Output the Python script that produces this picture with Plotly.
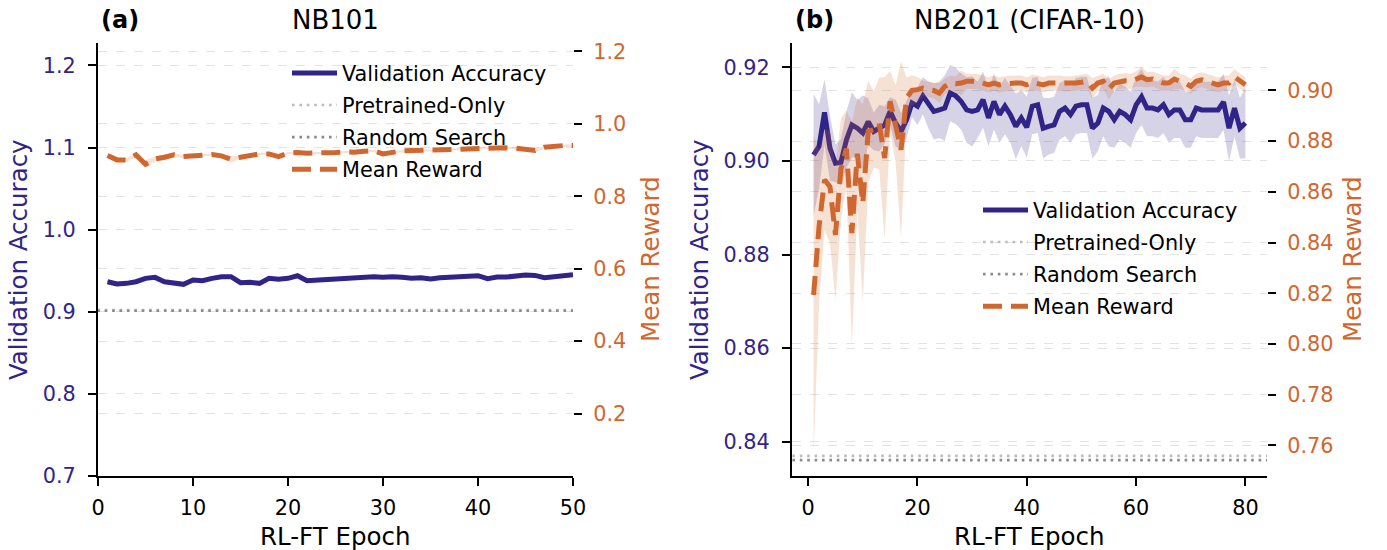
import numpy as np
import plotly.graph_objects as go

# ---------------- data ----------------
epochs_a = list(range(1, 51))
acc_a = [0.9366, 0.9338, 0.9346, 0.9366, 0.9407, 0.9419, 0.9366, 0.9354, 0.9334, 0.9387,
         0.9378, 0.9407, 0.9427, 0.9427, 0.9354, 0.9358, 0.9346, 0.9407, 0.9395, 0.9407,
         0.9439, 0.9378, 0.9387, 0.9395, 0.9399, 0.9415, 0.9423, 0.9427, 0.9427, 0.9419,
         0.9427, 0.9419, 0.9407, 0.9415, 0.9399, 0.9415, 0.9423, 0.9427, 0.9435, 0.9439,
         0.9403, 0.9423, 0.9423, 0.9435, 0.9447, 0.9443, 0.9415, 0.9427, 0.9443, 0.9451]
acc_a_std = [0.0020, 0.0030, 0.0020, 0.0015, 0.0020, 0.0015, 0.0025, 0.0020, 0.0020, 0.0030,
             0.0020, 0.0015, 0.0015, 0.0015, 0.0030, 0.0020, 0.0020, 0.0015, 0.0020, 0.0015,
             0.0015, 0.0020, 0.0025, 0.0030, 0.0025, 0.0015, 0.0015, 0.0015, 0.0015, 0.0015,
             0.0015, 0.0015, 0.0015, 0.0015, 0.0015, 0.0015, 0.0015, 0.0015, 0.0015, 0.0015,
             0.0015, 0.0015, 0.0015, 0.0015, 0.0015, 0.0015, 0.0020, 0.0015, 0.0015, 0.0015]
reward_a = [0.9124, 0.9004, 0.9004, 0.9142, 0.8884, 0.9032, 0.9078, 0.9142, 0.9096, 0.9115,
            0.9133, 0.9152, 0.9115, 0.9023, 0.9078, 0.9124, 0.9170, 0.9170, 0.9096, 0.9189,
            0.9207, 0.9189, 0.9189, 0.9207, 0.9207, 0.9225, 0.9216, 0.9244, 0.9253, 0.9170,
            0.9225, 0.9253, 0.9262, 0.9271, 0.9262, 0.9281, 0.9290, 0.9299, 0.9318, 0.9327,
            0.9327, 0.9327, 0.9336, 0.9327, 0.9308, 0.9262, 0.9354, 0.9391, 0.9400, 0.9400]
reward_a_std = [0.004, 0.006, 0.005, 0.005, 0.011, 0.006, 0.008, 0.005, 0.004, 0.003,
                0.003, 0.003, 0.004, 0.009, 0.004, 0.003, 0.003, 0.004, 0.006, 0.003,
                0.003, 0.003, 0.003, 0.003, 0.003, 0.003, 0.003, 0.003, 0.003, 0.007,
                0.003, 0.003, 0.003, 0.003, 0.003, 0.003, 0.003, 0.003, 0.003, 0.003,
                0.003, 0.003, 0.003, 0.003, 0.003, 0.006, 0.003, 0.003, 0.003, 0.003]
pretrained_a = 0.9022
random_a = 0.9012

epochs_b = list(range(1, 81))
acc_b = [0.9013, 0.9031, 0.9104, 0.9027, 0.8995, 0.8997, 0.9045, 0.9077, 0.9070, 0.9060,
         0.9084, 0.9063, 0.9070, 0.9077, 0.9106, 0.9081, 0.9063, 0.9088, 0.9124, 0.9117,
         0.9139, 0.9120, 0.9106, 0.9109, 0.9113, 0.9145, 0.9139, 0.9127, 0.9109, 0.9106,
         0.9109, 0.9131, 0.9092, 0.9127, 0.9099, 0.9117, 0.9099, 0.9074, 0.9092, 0.9072,
         0.9117, 0.9120, 0.9070, 0.9074, 0.9077, 0.9106, 0.9113, 0.9099, 0.9117, 0.9120,
         0.9120, 0.9070, 0.9081, 0.9113, 0.9106, 0.9088, 0.9106, 0.9099, 0.9088, 0.9120,
         0.9137, 0.9113, 0.9113, 0.9109, 0.9120, 0.9099, 0.9109, 0.9109, 0.9088, 0.9088,
         0.9113, 0.9109, 0.9109, 0.9109, 0.9109, 0.9126, 0.9070, 0.9113, 0.9070, 0.9081]
acc_b_std = [0.0130, 0.0090, 0.0070, 0.0070, 0.0040, 0.0050, 0.0060, 0.0070, 0.0060, 0.0080,
             0.0050, 0.0040, 0.0050, 0.0040, 0.0030, 0.0050, 0.0040, 0.0040, 0.0030, 0.0040,
             0.0040, 0.0050, 0.0060, 0.0060, 0.0070, 0.0060, 0.0060, 0.0060, 0.0070, 0.0075,
             0.0060, 0.0060, 0.0060, 0.0060, 0.0060, 0.0060, 0.0060, 0.0070, 0.0060, 0.0065,
             0.0060, 0.0060, 0.0065, 0.0060, 0.0060, 0.0060, 0.0060, 0.0060, 0.0060, 0.0060,
             0.0060, 0.0065, 0.0060, 0.0060, 0.0075, 0.0060, 0.0060, 0.0060, 0.0060, 0.0060,
             0.0060, 0.0060, 0.0060, 0.0060, 0.0060, 0.0060, 0.0060, 0.0060, 0.0060, 0.0060,
             0.0060, 0.0060, 0.0060, 0.0060, 0.0060, 0.0060, 0.0070, 0.0060, 0.0065, 0.0075]
reward_b = [0.8193, 0.8463, 0.8647, 0.8620, 0.8430, 0.8690, 0.8770, 0.8437, 0.8750, 0.8555,
            0.8838, 0.8845, 0.8870, 0.8733, 0.8957, 0.8870, 0.8766, 0.8970, 0.9000, 0.9003,
            0.9009, 0.9003, 0.9000, 0.8989, 0.9016, 0.9029, 0.9026, 0.9029, 0.9036, 0.9036,
            0.9036, 0.9029, 0.9022, 0.9029, 0.9022, 0.9026, 0.9029, 0.9029, 0.9029, 0.9022,
            0.9032, 0.9029, 0.9022, 0.9029, 0.9029, 0.9029, 0.9026, 0.9026, 0.9029, 0.9032,
            0.9036, 0.9009, 0.9029, 0.9036, 0.9005, 0.9029, 0.9036, 0.9038, 0.9036, 0.9045,
            0.9053, 0.9042, 0.9045, 0.9036, 0.9029, 0.9029, 0.9045, 0.9036, 0.9029, 0.9016,
            0.9036, 0.9042, 0.9036, 0.9029, 0.9022, 0.9029, 0.9029, 0.9053, 0.9036, 0.9022]
reward_b_std = [0.063, 0.030, 0.020, 0.022, 0.026, 0.020, 0.015, 0.044, 0.022, 0.039,
                0.020, 0.015, 0.018, 0.032, 0.012, 0.015, 0.035, 0.008, 0.006, 0.005,
                0.003, 0.003, 0.003, 0.004, 0.003, 0.003, 0.003, 0.005, 0.003, 0.003,
                0.003, 0.003, 0.003, 0.003, 0.003, 0.003, 0.003, 0.003, 0.003, 0.003,
                0.003, 0.003, 0.003, 0.003, 0.003, 0.003, 0.003, 0.003, 0.003, 0.003,
                0.003, 0.004, 0.003, 0.003, 0.004, 0.003, 0.003, 0.003, 0.003, 0.003,
                0.004, 0.003, 0.003, 0.003, 0.003, 0.003, 0.004, 0.003, 0.003, 0.003,
                0.003, 0.003, 0.003, 0.003, 0.003, 0.003, 0.003, 0.003, 0.003, 0.003]
pretrained_b = 0.8370
random_b = 0.8361

titles = ["NB101", "NB201 (CIFAR-10)"]
panel_tags = ["<b>(a)</b>", "<b>(b)</b>"]
x_title = "RL-FT Epoch"
y_left_title = "Validation Accuracy"
y_right_title = "Mean Reward"

# ---------------- style ----------------
BLUE = "#312489"
ORANGE = "#d0672f"
BLUE_BAND = "rgba(49,36,137,0.2)"
ORANGE_BAND = "rgba(208,103,47,0.2)"
LIGHT_GRAY = "#bdbdbd"
DARK_GRAY = "#8c8c8c"
FONT = "DejaVu Sans"
W, H = 1387, 550

fig = go.Figure()


def band(x, m, s, color, xa, ya):
    m = np.array(m)
    s = np.array(s)
    up = m + s
    lo = m - s
    xx = list(x) + list(x)[::-1]
    yy = list(up) + list(lo)[::-1]
    fig.add_trace(go.Scatter(x=xx, y=yy, fill="toself", fillcolor=color,
                             line=dict(width=0), mode="lines", hoverinfo="skip",
                             showlegend=False, xaxis=xa, yaxis=ya))


panels = [
    dict(ep=epochs_a, acc=acc_a, accs=acc_a_std, rw=reward_a, rws=reward_a_std,
         pre=pretrained_a, rnd=random_a, xa="x", yl="y", yr="y2", leg="legend"),
    dict(ep=epochs_b, acc=acc_b, accs=acc_b_std, rw=reward_b, rws=reward_b_std,
         pre=pretrained_b, rnd=random_b, xa="x2", yl="y3", yr="y4", leg="legend2"),
]

for p in panels:
    band(p["ep"], p["acc"], p["accs"], BLUE_BAND, p["xa"], p["yl"])
    fig.add_trace(go.Scatter(x=p["ep"], y=p["acc"], mode="lines",
                             line=dict(color=BLUE, width=5),
                             name="Validation Accuracy", legendgroup="g1", legend=p["leg"],
                             xaxis=p["xa"], yaxis=p["yl"]))
    xs = [p["ep"][0] - 100, p["ep"][-1] + 100]
    fig.add_trace(go.Scatter(x=xs, y=[p["pre"], p["pre"]], mode="lines",
                             line=dict(color=LIGHT_GRAY, width=2.6, dash="2.6px,4.8px"),
                             name="Pretrained-Only", legendgroup="g2", legend=p["leg"],
                             xaxis=p["xa"], yaxis=p["yl"]))
    fig.add_trace(go.Scatter(x=xs, y=[p["rnd"], p["rnd"]], mode="lines",
                             line=dict(color=DARK_GRAY, width=2.6, dash="2.6px,4.8px"),
                             name="Random Search", legendgroup="g3", legend=p["leg"],
                             xaxis=p["xa"], yaxis=p["yl"]))
    band(p["ep"], p["rw"], p["rws"], ORANGE_BAND, p["xa"], p["yr"])
    fig.add_trace(go.Scatter(x=p["ep"], y=p["rw"], mode="lines",
                             line=dict(color=ORANGE, width=5, dash="19px,9px"),
                             name="Mean Reward", legendgroup="g4", legend=p["leg"],
                             xaxis=p["xa"], yaxis=p["yr"]))

# ---------------- layout ----------------
ybot = 1 - 476 / H
ytop = 1 - 43 / H
dom_a = [98 / W, 573 / W]
dom_b = [792 / W, 1267 / W]

tickfont_black = dict(family=FONT, size=20.8, color="black")
grid = dict(showgrid=True, gridcolor="#e3e3e3", gridwidth=1, griddash="dash")


def xaxis(dom, rng, vals, anchor):
    return dict(domain=dom, range=rng, anchor=anchor, tickvals=vals, automargin=False,
                showline=True, linecolor="black", linewidth=2, ticks="outside",
                ticklen=8, tickwidth=1.8, tickcolor="black", tickfont=tickfont_black,
                ticklabelstandoff=4, showgrid=False, zeroline=False)


def yleft(rng, vals, fmt, anchor):
    return dict(domain=[ybot, ytop], range=rng, anchor=anchor, tickvals=vals, tickformat=fmt,
                automargin=False, showline=True, linecolor="black", linewidth=2,
                ticks="outside", ticklen=8, tickwidth=1.8, tickcolor="black",
                ticklabelstandoff=8,
                tickfont=dict(family=FONT, size=20.8, color=BLUE), zeroline=False, **grid)


def yright(rng, vals, fmt, anchor, over):
    return dict(domain=[ybot, ytop], range=rng, anchor=anchor, overlaying=over, side="right",
                tickvals=vals, tickformat=fmt, automargin=False, showline=False,
                ticks="outside", ticklen=8, tickwidth=1.8, tickcolor="black",
                ticklabelstandoff=7,
                tickfont=dict(family=FONT, size=20.8, color=ORANGE), zeroline=False, **grid)


legend_common = dict(bgcolor="rgba(0,0,0,0)", borderwidth=0, xanchor="left", yanchor="top",
                     font=dict(family=FONT, size=20.8, color="black"), itemwidth=45,
                     traceorder="grouped", tracegroupgap=2)

fig.update_layout(
    width=W, height=H, margin=dict(l=0, r=0, t=0, b=0, autoexpand=False),
    paper_bgcolor="white", plot_bgcolor="white",
    font=dict(family=FONT),
    xaxis=xaxis(dom_a, [0, 50], [0, 10, 20, 30, 40, 50], "y"),
    yaxis=yleft([0.7, 1.2273], [0.7, 0.8, 0.9, 1.0, 1.1, 1.2], ".1f", "x"),
    yaxis2=yright([0.0274, 1.2232], [0.2, 0.4, 0.6, 0.8, 1.0, 1.2], ".1f", "x", "y"),
    xaxis2=xaxis(dom_b, [-2.95, 83.95], [0, 20, 40, 60, 80], "y3"),
    yaxis3=yleft([0.8327, 0.9252], [0.84, 0.86, 0.88, 0.90, 0.92], ".2f", "x2"),
    yaxis4=yright([0.7479, 0.9187], [0.76, 0.78, 0.80, 0.82, 0.84, 0.86, 0.88, 0.90], ".2f", "x2", "y3"),
    legend=dict(x=287 / W, y=1 - 53 / H, **legend_common),
    legend2=dict(x=978 / W, y=1 - 190 / H, **legend_common),
    showlegend=True,
)


def ann(text, xpx, ypx, size, color, angle=0, xanchor="center"):
    fig.add_annotation(text=text, x=xpx / W, y=1 - ypx / H, xref="paper", yref="paper",
                       xanchor=xanchor, yanchor="middle", showarrow=False, textangle=angle,
                       font=dict(family=FONT, size=size, color=color))


for dom, title, tag, xl, xr in zip([dom_a, dom_b], titles, panel_tags, [19, 700], [650, 1352]):
    ann(title, (dom[0] + dom[1]) / 2 * W, 20, 26, "black")
    ann(tag, dom[0] * W + 1, 20, 24, "black", xanchor="left")
    ann(x_title, (dom[0] + dom[1]) / 2 * W, 536, 24.5, "black")
    ann(y_left_title, xl, 260, 24.5, BLUE, angle=-90)
    ann(y_right_title, xr, 259, 24.5, ORANGE, angle=-90)

fig.write_html("out.html")
